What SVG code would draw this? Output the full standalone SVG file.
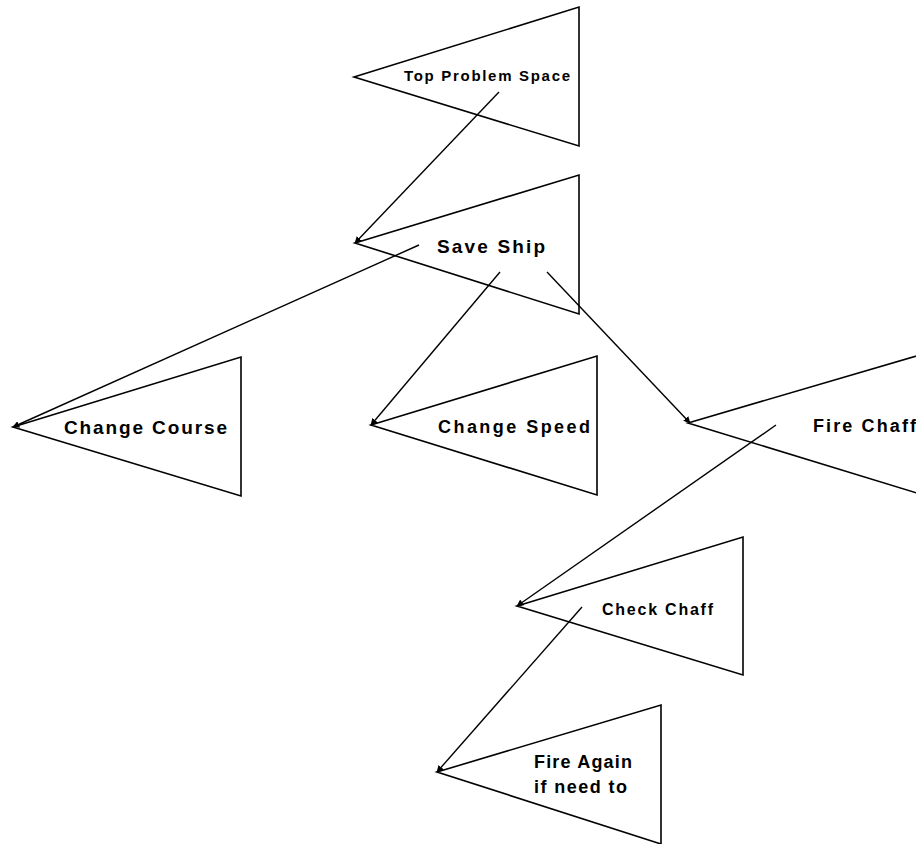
<svg xmlns="http://www.w3.org/2000/svg" width="916" height="844" viewBox="0 0 916 844">
<style>
.tri{fill:none;stroke:#000;stroke-width:1.6;stroke-linejoin:miter}
.con{fill:none;stroke:#000;stroke-width:1.4}
.lbl{font-family:"Liberation Sans",Arial,sans-serif;font-weight:bold;fill:#000}
</style>
<defs>
<marker id="ah" viewBox="0 0 10 10" refX="9" refY="5" markerWidth="7" markerHeight="7" markerUnits="userSpaceOnUse" orient="auto">
<path d="M0,0 L10,5 L0,10 z" fill="#000"/>
</marker>
</defs>
<rect width="916" height="844" fill="#fff"/>
<g id="top-problem-space">
<polygon class="tri" points="354,77 579,7 579,146"/>
<text class="lbl" x="404" y="81" font-size="15" textLength="166" lengthAdjust="spacing">Top Problem Space</text>
</g>
<g id="save-ship">
<polygon class="tri" points="355,243 579,175 579,314"/>
<text class="lbl" x="437" y="253" font-size="19" textLength="108" lengthAdjust="spacing">Save Ship</text>
</g>
<g id="change-course">
<polygon class="tri" points="13,427 241,357 241,496"/>
<text class="lbl" x="64" y="434" font-size="19" textLength="163" lengthAdjust="spacing">Change Course</text>
</g>
<g id="change-speed">
<polygon class="tri" points="371,425 597,356 597,495"/>
<text class="lbl" x="438" y="433" font-size="18" textLength="152" lengthAdjust="spacing">Change Speed</text>
</g>
<g id="fire-chaff">
<polyline class="tri" points="930,352 688,423 930,497"/>
<text class="lbl" x="813" y="432" font-size="18" textLength="103" lengthAdjust="spacing">Fire Chaff</text>
</g>
<g id="check-chaff">
<polygon class="tri" points="517,606 743,537 743,675"/>
<text class="lbl" x="602" y="615" font-size="16" textLength="111" lengthAdjust="spacing">Check Chaff</text>
</g>
<g id="fire-again">
<polygon class="tri" points="437,772 661,705 661,844"/>
<text class="lbl" font-size="18"><tspan x="534" y="768" textLength="98" lengthAdjust="spacing">Fire Again</tspan><tspan x="534" y="793" textLength="93" lengthAdjust="spacing">if need to</tspan></text>
</g>
<g id="connectors">
<line class="con" x1="499" y1="92" x2="355" y2="243" marker-end="url(#ah)"/>
<line class="con" x1="419" y1="245" x2="13" y2="427" marker-end="url(#ah)"/>
<line class="con" x1="500" y1="272" x2="371" y2="425" marker-end="url(#ah)"/>
<line class="con" x1="547" y1="272" x2="690" y2="423" marker-end="url(#ah)"/>
<line class="con" x1="776" y1="425" x2="517" y2="606" marker-end="url(#ah)"/>
<line class="con" x1="582" y1="607" x2="437" y2="772" marker-end="url(#ah)"/>
</g>
</svg>
